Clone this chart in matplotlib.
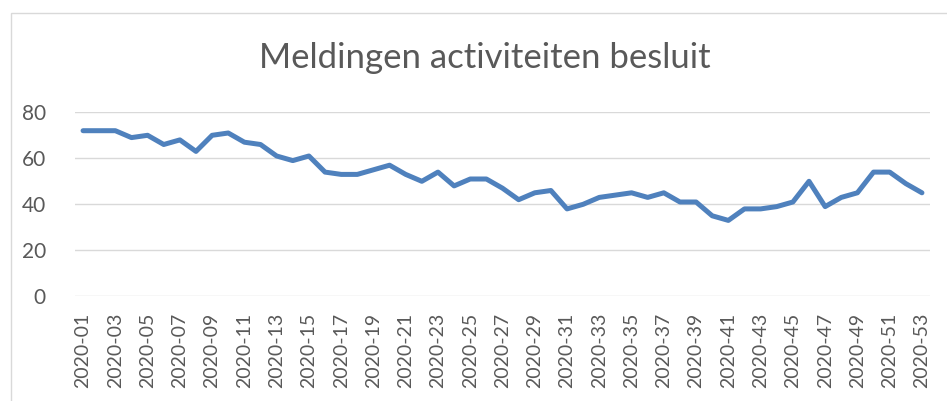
import matplotlib.pyplot as plt
from matplotlib.patches import Rectangle

# weeks 2020-01 .. 2020-53
weeks = ['2020-%02d' % w for w in range(1, 54)]
meldingen = [72, 72, 72, 69, 70, 66, 68, 63, 70, 71,
             67, 66, 61, 59, 61, 54, 53, 53, 55, 57,
             53, 50, 54, 48, 51, 51, 47, 42, 45, 46,
             38, 40, 43, 44, 45, 43, 45, 41, 41, 35,
             33, 38, 38, 39, 41, 50, 39, 43, 45, 54,
             54, 49, 45]
yticks = [0, 20, 40, 60, 80]

plt.rcParams['font.family'] = ['Lato', 'DejaVu Sans']
txt = '#595959'

fig = plt.figure(figsize=(9.47, 4.01), dpi=100)
fig.patches.append(Rectangle((11 / 947, -0.1), 1.1, 1 - 13 / 401 + 0.1,
                             transform=fig.transFigure, fill=False,
                             edgecolor='#D9D9D9', linewidth=1))
ax = fig.add_axes([75 / 947, 1 - 296.3 / 401, 855 / 947, 184 / 401])

x = list(range(len(weeks)))
ax.plot(x, meldingen, color='#4F81BD', linewidth=3.6, solid_capstyle='round',
        solid_joinstyle='round', zorder=3)

ax.set_xlim(-0.5, len(weeks) - 0.5)
ax.set_ylim(0, 80)
ax.set_yticks(yticks)
ax.set_xticks(x[::2])
ax.set_xticklabels(weeks[::2], rotation=90)
ax.grid(axis='y', color='#D9D9D9', linewidth=1)
ax.set_axisbelow(True)
for s in ax.spines.values():
    s.set_visible(False)
ax.tick_params(axis='both', length=0, colors=txt)
ax.tick_params(axis='y', pad=21, labelsize=15)
ax.tick_params(axis='x', pad=12, labelsize=14)

fig.text(0.512, 1 - 58 / 401, 'Meldingen activiteiten besluit', ha='center',
         va='center', fontsize=25, color=txt)

fig.savefig('out.png', dpi=100)
